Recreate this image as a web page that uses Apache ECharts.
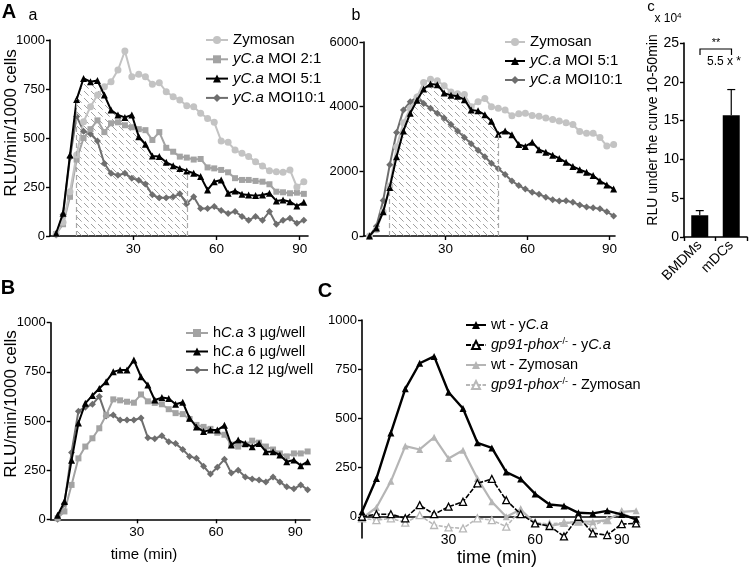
<!DOCTYPE html>
<html><head><meta charset="utf-8">
<script src="https://cdn.jsdelivr.net/npm/echarts@6/dist/echarts.min.js"></script>
<style>html,body{margin:0;padding:0;background:#fff}#c{width:750px;height:567px}</style>
</head><body><div id="c"></div>
<script>
// ---------- data ----------
const timeA = [2.2,4.7,7.2,9.6,12.1,14.6,17.1,19.6,22.0,24.5,27.0,29.5,32.0,34.4,36.9,39.4,41.9,44.4,46.8,49.3,51.8,54.3,56.8,59.2,61.7,64.2,66.7,69.2,71.6,74.1,76.6,79.1,81.6,84.0,86.5,89.0,91.5];
// panel A a (RLU/min/1000 cells)
const zymA  = [10,70,226,413,583,660,719,762,787,847,944,813,825,813,774,782,736,711,694,665,660,626,600,580,485,478,439,422,405,379,357,333,328,325,337,250,277];
const moi2A = [10,60,200,390,500,545,590,530,575,580,565,555,545,540,490,530,450,430,405,400,390,393,350,345,337,325,295,286,286,281,277,264,226,223,218,221,215];
const moi5A = [14,116,413,697,804,787,793,719,643,617,605,617,507,468,408,405,376,359,345,332,320,303,235,277,286,218,230,213,209,206,209,218,179,184,175,153,172];
const moi10A= [5,110,400,610,535,520,485,370,320,310,320,295,285,265,210,195,195,200,215,165,200,140,140,150,130,115,125,100,80,100,80,125,60,80,90,65,80];
// panel A b
const zymB  = [0,190,750,1550,2750,3500,3950,4300,4750,4850,4800,4650,4450,4400,4380,4000,4150,4250,4000,3950,3900,3720,3780,3800,3730,3700,3650,3600,3560,3500,3450,3230,3180,3180,3050,2780,2830];
const moi5B = [0,250,750,1500,2450,3250,3800,4200,4550,4700,4680,4420,4350,4320,4215,3900,3870,3750,3550,3150,3250,3130,2830,2770,2900,2670,2590,2500,2400,2280,2150,2050,1970,1870,1700,1580,1450];
const moi10B= [0,300,1100,2200,3200,3900,4150,4300,4100,3950,3800,3650,3450,3250,3050,2850,2650,2450,2250,2080,1900,1700,1560,1450,1350,1290,1200,1120,1080,1090,1040,960,900,870,840,750,620];
// panel A c
const cells  = ['BMDMs','mDCs'];
const auc    = [2.8, 15.7];
const aucErr = [0.6, 3.3];
// panel B
const timeB = [0,2.6,5.3,7.9,10.5,13.2,15.8,18.4,21.1,23.7,26.3,28.9,31.6,34.2,36.8,39.5,42.1,44.7,47.4,50.0,52.6,55.3,57.9,60.5,63.2,65.8,68.4,71.1,73.7,76.3,78.9,81.6,84.2,86.8,89.5,92.1,94.7];
const h3  = [5,40,175,310,370,412,463,530,610,605,598,593,635,600,592,585,560,540,535,510,480,470,460,440,430,380,370,380,400,390,370,355,335,320,335,335,345];
const h6  = [20,90,300,490,590,630,665,700,750,760,760,810,725,683,607,619,615,585,595,514,470,446,454,454,478,378,403,386,369,386,344,344,327,293,302,273,293];
const h12 = [0,80,340,550,570,585,625,525,530,505,505,505,515,415,410,425,395,385,355,320,310,270,230,265,305,235,250,215,205,200,190,215,190,165,155,175,150];
// panel C
const timeC = [0,5,10,15,20,25,30,35,40,45,50,55,60,65,70,75,80,85,90,95];
const wtY  = [25,194,426,650,780,815,633,550,376,350,227,192,116,62,55,20,17,30,12,-13];
const gpY  = [0,13,13,-8,59,13,51,76,170,192,84,13,-34,-47,-100,0,-84,-93,-37,-34];
const wtZ  = [-8,47,180,359,342,404,296,338,195,76,0,37,-34,-47,-34,-25,-25,-17,25,30];
const gpZ  = [-8,-17,-8,-30,8,-42,-54,-59,-8,-17,-50,34,-30,-37,-30,-25,-42,-17,25,-20];
// tick values
const timeTicks = [30,60,90];
const yTicksC = [0,250,500,750,1000];

// ---------- styling helpers ----------
const F = "Liberation Sans";
const K = '#000';
const plain = v => String(v);
function pattern(){
  const s = 14, c = document.createElement('canvas'); c.width = s; c.height = s;
  const g = c.getContext('2d');
  g.strokeStyle = '#a0a0a0'; g.lineWidth = 1;
  g.setLineDash([6.6, 3.3]);
  for (const k of [-14,-7,0,7,14]) { g.beginPath(); g.moveTo(k,0); g.lineTo(k+14,14); g.stroke(); }
  return c;
}
const pat = pattern();

function yAx(grid, min, max, interval, fs, extra){
  return Object.assign({type:'value', gridIndex:grid, min:min, max:max, interval:interval,
    axisLine:{show:true, onZero:false, lineStyle:{color:K, width:1.6}},
    axisTick:{show:true, length:4, lineStyle:{color:K, width:1.4}},
    axisLabel:{color:K, fontSize:fs||13, fontFamily:F, margin:5, formatter:plain},
    splitLine:{show:false}}, extra||{});
}
function xAx(grid, min, max, extra){
  return Object.assign({type:'value', gridIndex:grid, min:min, max:max,
    axisLine:{show:true, onZero:false, lineStyle:{color:K, width:1.6}},
    axisTick:{show:true, length:4, customValues:timeTicks, lineStyle:{color:K, width:1.4}},
    axisLabel:{color:K, fontSize:13.5, fontFamily:F, margin:6, customValues:timeTicks, formatter:plain},
    splitLine:{show:false}}, extra||{});
}
function ln(name, xi, xs, ys, color, symbol, size, extra){
  return Object.assign({type:'line', name:name, xAxisIndex:xi, yAxisIndex:xi,
    data: xs.map((x,i)=>[x, ys[i]]), symbol:symbol, symbolSize:size, showSymbol:true,
    lineStyle:{color:color, width:2}, itemStyle:{color:color}, z:3}, extra||{});
}
function hatch(xi, xs, ys, i0, i1){
  return {type:'line', xAxisIndex:xi, yAxisIndex:xi, silent:true, z:1,
    data: xs.slice(i0, i1+1).map((x,k)=>[x, ys[i0+k]]),
    symbol:'none', showSymbol:false, lineStyle:{width:0, opacity:0},
    areaStyle:{color:{image:pat, repeat:'repeat'}, opacity:1},
    markLine:{silent:true, symbol:['none','none'], label:{show:false}, animation:false,
      lineStyle:{color:'#a8a8a8', type:[5,3], width:1.2},
      data:[[{coord:[xs[i0],0]},{coord:[xs[i0],ys[i0]]}],[{coord:[xs[i1],0]},{coord:[xs[i1],ys[i1]]}]]}};
}
function tail(t){ return t.slice(-4)==='yC.a' ? '{n|'+t.slice(0,-3)+'}{i|C.a}' : '{n|'+t+'}'; }
function fmt(name){
  if (name.indexOf('yC.a')===0) return '{i|yC.a}{n|'+name.slice(4)+'}';
  if (name.indexOf('hC.a')===0) return '{n|h}{i|C.a}{n|'+name.slice(4)+'}';
  if (name.indexOf('gp91-phox-/-')===0) return '{i|gp91-phox}{s|-/-}'+tail(name.slice(12));
  return tail(name);
}
function rich(fs){
  return {n:{fontSize:fs, fontFamily:F, color:K, lineHeight:16},
          i:{fontSize:fs, fontFamily:F, color:K, lineHeight:16, fontStyle:'italic'},
          s:{fontSize:9, fontFamily:F, color:K, lineHeight:9, verticalAlign:'top'}};
}
function leg(names, left, top, gap, fs, iw){
  return {data:names, orient:'vertical', left:left, top:top, padding:0, itemGap:gap,
    itemWidth:iw||22, itemHeight:10, selectedMode:false, formatter:fmt,
    textStyle:{color:K, fontSize:fs, fontFamily:F, lineHeight:16, rich:rich(fs)}};
}
function txt(x, y, text, font, extra){
  return Object.assign({type:'text', x:x, y:y, silent:true,
    style:{text:text, font:font, fill:K, textAlign:'center', textVerticalAlign:'middle', align:'center', verticalAlign:'middle'}}, extra||{});
}

const gray1 = '#c3c3c3', gray2 = '#a3a3a3', gray3 = '#6e6e6e';

const option = {
  animation:false,
  backgroundColor:'#fff',
  grid:[
    {left:50, top:40, width:258, height:196, containLabel:false, outerBoundsMode:'none'},
    {left:363.5, top:42, width:251.5, height:194, containLabel:false, outerBoundsMode:'none'},
    {left:684, top:43, width:63, height:194, containLabel:false, outerBoundsMode:'none'},
    {left:50.7, top:322.7, width:259.3, height:196.6, containLabel:false, outerBoundsMode:'none'},
    {left:362, top:320, width:277, height:218, containLabel:false, outerBoundsMode:'none'}
  ],
  xAxis:[
    xAx(0, 0, 93),
    xAx(1, 0, 92),
    {type:'category', gridIndex:2, data:cells,
      axisLine:{show:true, onZero:false, lineStyle:{color:K, width:1.6}},
      axisTick:{show:true, length:4, lineStyle:{color:K, width:1.4}},
      axisLabel:{color:K, fontSize:14, fontFamily:F, rotate:45, margin:6, interval:0}},
    xAx(3, -2.6, 95.6),
    xAx(4, 0, 96, {axisLine:{show:true, onZero:true, lineStyle:{color:K, width:1.6}},
      axisTick:{show:false},
      axisLabel:{color:K, fontSize:14, fontFamily:F, margin:-5, customValues:timeTicks, formatter:plain}})
  ],
  yAxis:[
    yAx(0, 0, 1000, 250),
    yAx(1, 0, 6000, 2000),
    yAx(2, 0, 25, 5, 14),
    yAx(3, 0, 1000, 250),
    yAx(4, -108, 1000, null, 13, {
      axisTick:{show:true, length:4, customValues:yTicksC, lineStyle:{color:K, width:1.4}},
      axisLabel:{color:K, fontSize:13, fontFamily:F, margin:5, customValues:yTicksC, formatter:plain}})
  ],
  legend:[
    leg(['Zymosan','yC.a MOI 2:1','yC.a MOI 5:1','yC.a MOI10:1'], 205, 32, 3.3, 15),
    leg(['Zymosan','yC.a MOI 5:1','yC.a MOI10:1'], 504, 34, 3, 15, 20),
    leg(['hC.a 3 µg/well','hC.a 6 µg/well','hC.a 12 µg/well'], 185, 325, 2.5, 14.5),
    leg(['wt - yC.a','gp91-phox-/- - yC.a','wt - Zymosan','gp91-phox-/- - Zymosan'], 465, 317, 4, 14.5, 20)
  ],
  series:[
    hatch(0, timeA, moi5A, 3, 19),
    ln('yC.a MOI10:1', 0, timeA, moi10A, gray3, 'diamond', 7),
    ln('yC.a MOI 2:1', 0, timeA, moi2A, gray2, 'rect', 6),
    ln('Zymosan', 0, timeA, zymA, gray1, 'circle', 7),
    ln('yC.a MOI 5:1', 0, timeA, moi5A, K, 'triangle', 7, {z:4}),

    hatch(1, timeA, moi5B, 3, 19),
    ln('yC.a MOI10:1', 1, timeA, moi10B, gray3, 'diamond', 7),
    ln('Zymosan', 1, timeA, zymB, gray1, 'circle', 7),
    ln('yC.a MOI 5:1', 1, timeA, moi5B, K, 'triangle', 7, {z:4}),

    {type:'bar', xAxisIndex:2, yAxisIndex:2, data:auc, barWidth:17, itemStyle:{color:K}, z:3},
    {type:'custom', xAxisIndex:2, yAxisIndex:2, z:4, silent:true,
      data: cells.map((c,i)=>[i, auc[i], auc[i]+aucErr[i]]),
      renderItem:function(params, api){
        const x = api.value(0);
        const p0 = api.coord([x, api.value(1)]), p1 = api.coord([x, api.value(2)]);
        const w = 4;
        return {type:'group', children:[
          {type:'line', shape:{x1:p0[0], y1:p0[1], x2:p1[0], y2:p1[1]}, style:{stroke:K, lineWidth:1.2}},
          {type:'line', shape:{x1:p1[0]-w, y1:p1[1], x2:p1[0]+w, y2:p1[1]}, style:{stroke:K, lineWidth:1.2}}]};
      }},

    ln('hC.a 12 µg/well', 3, timeB, h12, gray3, 'diamond', 7),
    ln('hC.a 3 µg/well', 3, timeB, h3, gray2, 'rect', 6),
    ln('hC.a 6 µg/well', 3, timeB, h6, K, 'triangle', 7, {z:4}),

    ln('gp91-phox-/- - Zymosan', 4, timeC, gpZ, '#b8b8b8', 'triangle', 7,
      {lineStyle:{color:'#b8b8b8', width:1.6, type:[4,1.5]}, itemStyle:{color:'#fff', borderColor:'#b8b8b8', borderWidth:1.3}}),
    ln('wt - Zymosan', 4, timeC, wtZ, '#b5b5b5', 'triangle', 7, {lineStyle:{color:'#b5b5b5', width:2.2}}),
    ln('gp91-phox-/- - yC.a', 4, timeC, gpY, K, 'triangle', 7,
      {lineStyle:{color:K, width:1.6, type:[5,1.5]}, itemStyle:{color:'#fff', borderColor:K, borderWidth:1.3}, z:4}),
    ln('wt - yC.a', 4, timeC, wtY, K, 'triangle', 7, {lineStyle:{color:K, width:2.4}, z:5})
  ],
  graphic:[
    txt(9, 12, 'A', "bold 20px 'Liberation Sans'"),
    txt(33, 16, 'a', "16px 'Liberation Sans'"),
    txt(356, 16, 'b', "16px 'Liberation Sans'"),
    txt(651, 7, 'c', "15px 'Liberation Sans'"),
    {type:'text', x:668, y:19, silent:true, style:{text:'{n|x 10}{s|4}', fill:K, align:'center', verticalAlign:'middle', textAlign:'center', textVerticalAlign:'middle',
      rich:{n:{fontSize:12, fontFamily:F, color:K, lineHeight:14}, s:{fontSize:8, fontFamily:F, color:K, lineHeight:8, verticalAlign:'top'}}}},
    txt(8, 288, 'B', "bold 20px 'Liberation Sans'"),
    txt(325, 291, 'C', "bold 20px 'Liberation Sans'"),
    txt(11, 123, 'RLU/min/1000 cells', "17px 'Liberation Sans'", {rotation:Math.PI/2}),
    txt(11, 404, 'RLU/min/1000 cells', "17px 'Liberation Sans'", {rotation:Math.PI/2}),
    txt(653, 130, 'RLU under the curve 10-50min', "14px 'Liberation Sans'", {rotation:Math.PI/2}),
    txt(144, 555, 'time (min)', "15px 'Liberation Sans'"),
    txt(497, 558, 'time (min)', "18px 'Liberation Sans'"),
    {type:'polyline', silent:true, shape:{points:[[700,55],[700,49],[731.5,49],[731.5,55]]}, style:{stroke:K, lineWidth:1.2, fill:null}},
    txt(716, 43, '**', "11px 'Liberation Sans'"),
    txt(724, 62, '5.5 x *', "12px 'Liberation Sans'")
  ]
};
const chart = echarts.init(document.getElementById('c'), null, {renderer:'canvas', width:750, height:567});
chart.setOption(option);
</script></body></html>
